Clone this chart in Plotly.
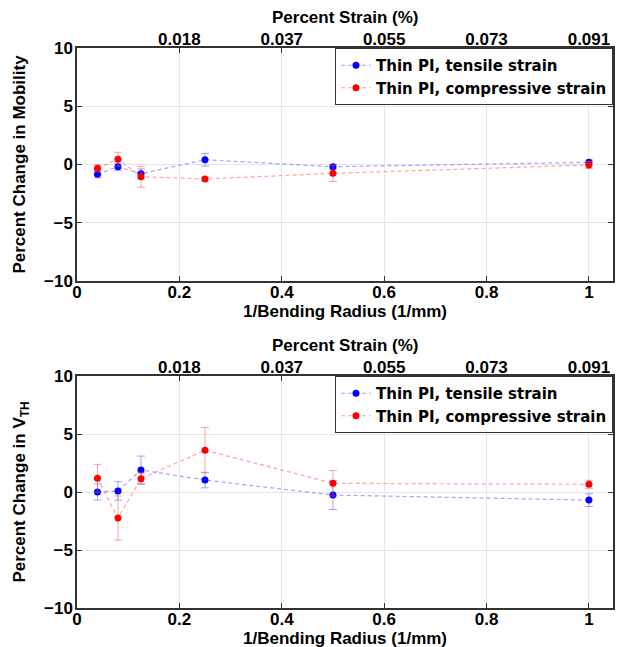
import plotly.graph_objects as go

# ---- data ----
inv_radius = [0.04, 0.08, 0.125, 0.25, 0.5, 1.0]

mob_tensile = [-0.84, -0.19, -0.79, 0.41, -0.19, 0.19]
mob_tensile_err = [0.3, 0.3, 0.4, 0.55, 0.2, 0.2]
mob_compressive = [-0.33, 0.45, -1.05, -1.24, -0.76, -0.04]
mob_compressive_err = [0.3, 0.6, 0.9, 0.15, 0.7, 0.3]

vth_tensile = [0.0, 0.09, 1.9, 1.03, -0.26, -0.7]
vth_tensile_err = [0.7, 0.8, 1.2, 0.67, 1.25, 0.55]
vth_compressive = [1.18, -2.24, 1.15, 3.6, 0.75, 0.66]
vth_compressive_err = [1.2, 1.9, 0.5, 1.95, 1.1, 0.35]

bottom_ticks = [0, 0.2, 0.4, 0.6, 0.8, 1.0]
bottom_ticktext = ["0", "0.2", "0.4", "0.6", "0.8", "1"]
top_ticks = [0.2, 0.4, 0.6, 0.8, 1.0]
top_ticktext = ["0.018", "0.037", "0.055", "0.073", "0.091"]
y_ticks = [-10, -5, 0, 5, 10]

label_tensile = "Thin PI, tensile strain"
label_compressive = "Thin PI, compressive strain"
xtitle_bottom = "1/Bending Radius (1/mm)"
xtitle_top = "Percent Strain (%)"
ytitle_mob = "Percent Change in Mobility"
ytitle_vth = "Percent Change in V<sub>TH</sub>"

BLUE = "#0000ff"
RED = "#ff0000"
BLUE_L = "rgba(90,90,255,0.55)"
RED_L = "rgba(255,90,90,0.55)"
FONT = "Liberation Sans"

fig = go.Figure()


def add_series(x, y, err, color, lcolor, name, xa, ya, leg):
    fig.add_trace(go.Scatter(
        x=x, y=y, mode="lines+markers", name=name, showlegend=True, legend=leg,
        line=dict(color=lcolor, width=1.2, dash="4px,3px"),
        marker=dict(color=color, size=7),
        error_y=dict(type="data", array=err, color=lcolor, thickness=1, width=4),
        xaxis=xa, yaxis=ya,
    ))


add_series(inv_radius, mob_tensile, mob_tensile_err, BLUE, BLUE_L, label_tensile, "x", "y", "legend")
add_series(inv_radius, mob_compressive, mob_compressive_err, RED, RED_L, label_compressive, "x", "y", "legend")
add_series(inv_radius, vth_tensile, vth_tensile_err, BLUE, BLUE_L, label_tensile, "x2", "y2", "legend2")
add_series(inv_radius, vth_compressive, vth_compressive_err, RED, RED_L, label_compressive, "x2", "y2", "legend2")

# invisible traces to activate the top axes
for xa, ya in (("x3", "y"), ("x4", "y2")):
    fig.add_trace(go.Scatter(x=[0.5], y=[0], mode="markers", marker=dict(opacity=0),
                             showlegend=False, hoverinfo="skip", xaxis=xa, yaxis=ya))

XR = [0, 1.047]
tickfont = dict(family=FONT, size=17, color="black", weight="bold")
xtitlefont = dict(family=FONT, size=17, color="black", weight="bold")
ytitlefont = dict(family=FONT, size=17, color="black", weight="bold")
GRID = "#e6e6e6"
axcommon = dict(showline=True, linecolor="#333333", linewidth=1.5, ticks="inside",
                ticklen=5, tickcolor="#333333", tickfont=tickfont, zeroline=False,
                automargin=False)

xb = dict(range=XR, tickvals=bottom_ticks, ticktext=bottom_ticktext,
          showgrid=True, gridcolor=GRID, gridwidth=1,
          ticklabelstandoff=-5, **axcommon)
xt = dict(range=XR, tickvals=top_ticks, ticktext=top_ticktext, side="top", showgrid=False,
          ticklabelstandoff=-6, **axcommon)
yc = dict(range=[-10, 10], tickvals=y_ticks, showgrid=True, gridcolor=GRID,
          gridwidth=1, mirror="ticks", ticklabelstandoff=-1, **axcommon)

legcommon = dict(x=1, xanchor="right", yanchor="top", bgcolor="white",
                 bordercolor="#333333", borderwidth=1,
                 font=dict(family="DejaVu Sans", size=15, color="black", weight="bold"),
                 tracegroupgap=0, itemwidth=30)

# figure is drawn 8 px in from the page corner (body margin)
W, H = 616, 639
ML, MR, MT, MB = 69, 11, 40, 39
PH = H - MT - MB


def py(ypix):
    # figure pixel -> paper coordinate
    return (H - MB - ypix) / PH


top_dom = [py(273), 1]
bot_dom = [0, py(368)]

ann = []
for text, ypix in ((xtitle_top, 10), (xtitle_bottom, 303), (xtitle_top, 337), (xtitle_bottom, 630)):
    ann.append(dict(text=text, x=0.5, y=py(ypix), xref="paper", yref="paper",
                    xanchor="center", yanchor="middle", showarrow=False, font=xtitlefont))

fig.update_layout(
    width=W, height=H,
    margin=dict(l=ML, r=MR, t=MT, b=MB),
    paper_bgcolor="white", plot_bgcolor="white",
    showlegend=True,
    xaxis=dict(domain=[0, 1], anchor="y", **xb),
    xaxis3=dict(overlaying="x", anchor="y", **xt),
    yaxis=dict(domain=top_dom, anchor="x",
               title=dict(text=ytitle_mob, font=ytitlefont, standoff=14), **yc),
    xaxis2=dict(domain=[0, 1], anchor="y2", **xb),
    xaxis4=dict(overlaying="x2", anchor="y2", **xt),
    yaxis2=dict(domain=bot_dom, anchor="x2",
                title=dict(text=ytitle_vth, font=ytitlefont, standoff=14), **yc),
    legend=dict(y=1.0, **legcommon),
    legend2=dict(y=bot_dom[1], **legcommon),
    annotations=ann,
)

fig.write_html("out.html")
